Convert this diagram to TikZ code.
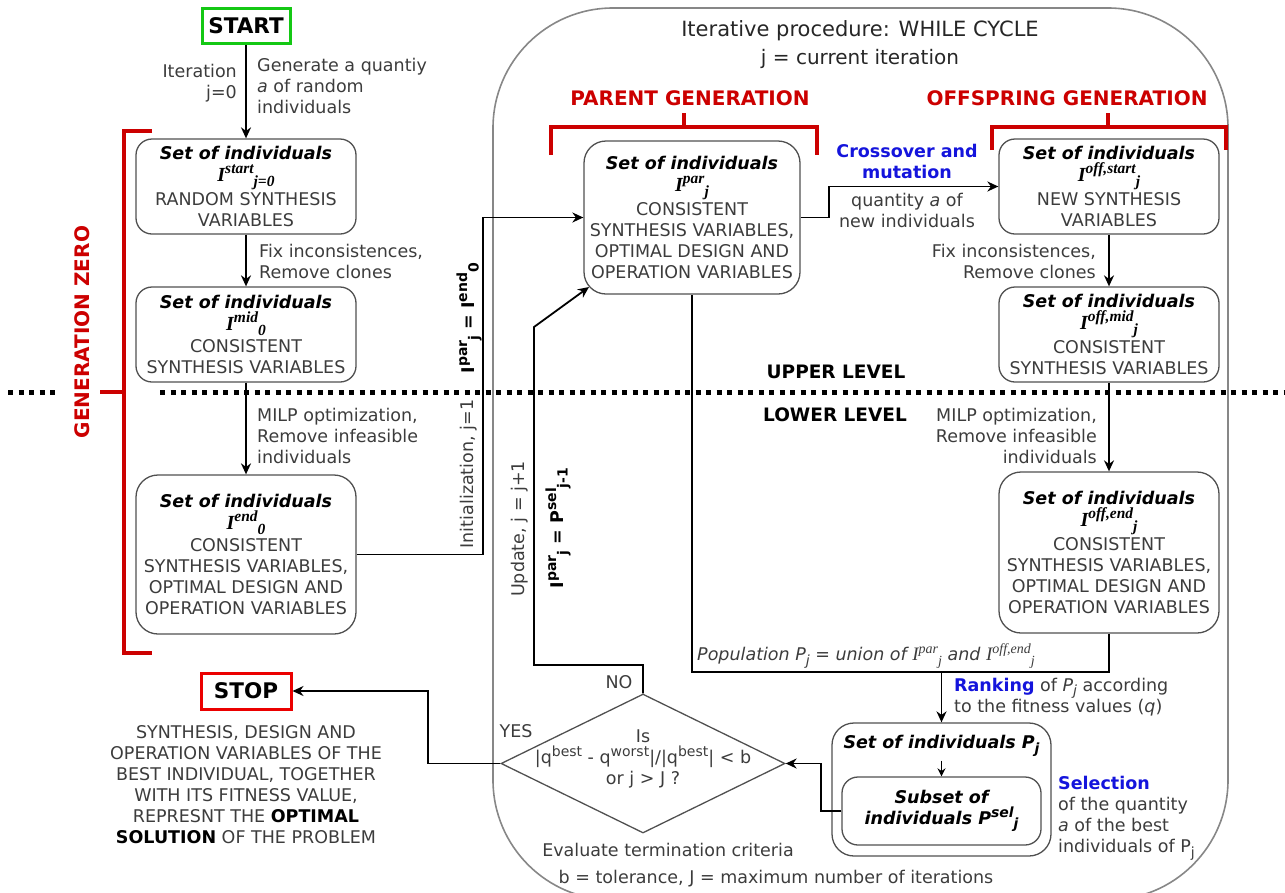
\documentclass[tikz,border=0pt]{standalone}
\usepackage{fontspec}
\setmainfont{DejaVu Sans}
\newfontfamily\serifbi{Liberation Serif}
\usetikzlibrary{shapes.geometric,arrows.meta,calc}
\definecolor{txt}{RGB}{60,60,60}
\definecolor{redc}{RGB}{204,0,0}
\definecolor{bluec}{RGB}{20,20,220}
\definecolor{frm}{RGB}{135,135,135}
\definecolor{bord}{RGB}{80,80,80}
\definecolor{grn}{RGB}{20,200,20}
\definecolor{stopred}{RGB}{235,0,0}
\newcommand\fs{\fontsize{17.5}{21}\selectfont}
\newcommand\supr[1]{\raisebox{0.40em}{\fontsize{14}{14}\selectfont #1}}
\newcommand\subr[1]{\raisebox{-0.26em}{\fontsize{14}{14}\selectfont #1}}
\newcommand\Isupr[1]{\raisebox{0.40em}{\fontsize{15.5}{15}\selectfont #1}}
\newcommand\Isubr[1]{\raisebox{-0.24em}{\fontsize{15.5}{15}\selectfont #1}}
\newcommand\SI{{\color{black}\bfseries\itshape Set of individuals}}
\newcommand\Iv[2]{{\color{black}\serifbi\fontsize{20}{21}\selectfont\bfseries\itshape I\Isupr{#1}\Isubr{#2}}}
\begin{document}
\begin{tikzpicture}[x=1pt,y=-1pt,font=\fs,text=txt,
  box/.style={draw=bord, line width=1.3pt, rounded corners=16pt, align=center, inner sep=0pt},
  bigbox/.style={box, rounded corners=22pt},
  arr/.style={-{Stealth[length=11pt,width=10pt]}, line width=1.8pt, draw=black},
  conn/.style={line width=1.8pt, draw=black},
  lbl/.style={inner sep=0pt},
  redbr/.style={draw=redc, line width=3.5pt},
  redlab/.style={inner sep=0pt, text=redc, font=\fontsize{20}{24}\selectfont\bfseries},
  levlab/.style={inner sep=0pt, text=black, font=\fontsize{18.5}{22}\selectfont\bfseries},
  dotl/.style={line width=5pt, dash pattern=on 5pt off 5.5pt, draw=black},
  bluelab/.style={inner sep=0pt, text=bluec, font=\fs\bfseries, align=center}]
\useasboundingbox (0,0) rectangle (1285,892);
\clip (0,0) rectangle (1285,892);

% WHILE frame
\draw[draw=frm, line width=1.6pt, rounded corners=120pt] (493,8) rectangle (1228,900);
\node[lbl, font=\fontsize{21}{24}\selectfont, text=black!85] (title) at (860,31) {Iterative procedure: WHILE CYCLE};
\node[lbl, font=\fontsize{20}{24}\selectfont, text=black!85] (curit) at (860,59) {j = current iteration};

% START / STOP
\node[draw=grn, line width=3pt, minimum width=88pt, minimum height=35pt, inner sep=0pt, text=black, font=\fontsize{21.5}{24}\selectfont\bfseries] (start) at (246,26) {START};
\node[draw=stopred, line width=3pt, minimum width=90pt, minimum height=36pt, inner sep=0pt, text=black, font=\fontsize{21.5}{24}\selectfont\bfseries] (stop) at (246,691) {STOP};
\node[lbl, align=center] (stopdesc) at (246,785) {SYNTHESIS, DESIGN AND\\OPERATION VARIABLES OF THE\\BEST INDIVIDUAL, TOGETHER\\WITH ITS FITNESS VALUE,\\REPRESNT THE {\color{black}\bfseries OPTIMAL}\\{\color{black}\bfseries SOLUTION} OF THE PROBLEM};

% generation zero boxes
\node[box, minimum width=220pt, minimum height=95pt] (b1) at (246,186.5) {\SI\\[1pt]\Iv{start}{j=0}\\[1pt]RANDOM SYNTHESIS\\VARIABLES};
\node[box, minimum width=220pt, minimum height=95pt] (b2) at (246,334.5) {\SI\\[1pt]\Iv{mid}{0}\\[1pt]CONSISTENT\\SYNTHESIS VARIABLES};
\node[bigbox, minimum width=220pt, minimum height=159pt] (b3) at (246,554.5) {\SI\\[1pt]\Iv{end}{0}\\[1pt]CONSISTENT\\SYNTHESIS VARIABLES,\\OPTIMAL DESIGN AND\\OPERATION VARIABLES};

% parent and offspring boxes
\node[bigbox, minimum width=216pt, minimum height=153pt] (par) at (692,217.5) {\SI\\[1pt]\Iv{par}{j}\\[1pt]CONSISTENT\\SYNTHESIS VARIABLES,\\OPTIMAL DESIGN AND\\OPERATION VARIABLES};
\node[box, minimum width=220pt, minimum height=95pt] (offs) at (1109,186.5) {\SI\\[1pt]\Iv{off,start}{j}\\[1pt]NEW SYNTHESIS\\VARIABLES};
\node[box, minimum width=220pt, minimum height=95pt] (offm) at (1109,334.5) {\SI\\[1pt]\Iv{off,mid}{j}\\[1pt]CONSISTENT\\SYNTHESIS VARIABLES};
\node[bigbox, minimum width=220pt, minimum height=161pt] (offe) at (1109,552.5) {\SI\\[1pt]\Iv{off,end}{j}\\[1pt]CONSISTENT\\SYNTHESIS VARIABLES,\\OPTIMAL DESIGN AND\\OPERATION VARIABLES};

% selection boxes
\node[bigbox, minimum width=219pt, minimum height=133pt] (pj) at (941.5,789.5) {};
\node[lbl, text=black, font=\fs\bfseries\itshape] (pjtxt) at (941.5,746) {Set of individuals P\subr{j}};
\node[box, minimum width=199pt, minimum height=68pt, text=black, font=\fs\bfseries\itshape] (psel) at (941.5,811) {Subset of\\individuals P\supr{sel}\subr{j}};

% decision diamond
\node[diamond, draw=bord, line width=1.3pt, minimum width=284pt, minimum height=139pt, inner sep=0pt] (dia) at (643,763.5) {};
\node[lbl, align=center] (diatxt) at (643,759) {Is\\|q\supr{best} - q\supr{worst}|/|q\supr{best}| < b\\or j > J ?};
\node[lbl] (evt) at (668,850) {Evaluate termination criteria};
\node[lbl] (tol) at (776,879) {b = tolerance, J = maximum number of iterations};

% labels on the left column
\node[lbl, align=right, anchor=east] (iterlab) at (237,83) {Iteration\\j=0};
\node[lbl, align=left, anchor=west] (genlab) at (257,86) {Generate a quantiy\\\textit{a} of random\\individuals};
\node[lbl, align=left, anchor=west] (fixl) at (259,261) {Fix inconsistences,\\Remove clones};
\node[lbl, align=left, anchor=west] (milpl) at (257,436) {MILP optimization,\\Remove infeasible\\individuals};
\node[lbl, align=right, anchor=east] (fixr) at (1096,261) {Fix inconsistences,\\Remove clones};
\node[lbl, align=right, anchor=east] (milpr) at (1097,436) {MILP optimization,\\Remove infeasible\\individuals};

% group labels
\node[redlab, rotate=90] (gz) at (82,332) {GENERATION ZERO};
\node[redlab] (pg) at (690,98) {PARENT GENERATION};
\node[redlab] (og) at (1067,98) {OFFSPRING GENERATION};
\draw[redbr] (152,131) -- (124,131) -- (124,653) -- (152,653);
\draw[redbr] (100,392) -- (124,392);
\draw[redbr] (551,155) -- (551,127) -- (817,127) -- (817,155);
\draw[redbr] (684,113) -- (684,127);
\draw[redbr] (992,150) -- (992,127) -- (1226,127) -- (1226,150);
\draw[redbr] (1108,113) -- (1108,127);

\node[levlab] (up) at (836,372) {UPPER LEVEL};
\node[levlab] (low) at (835,415) {LOWER LEVEL};

% crossover labels
\node[bluelab] (cross) at (907,161) {Crossover and\\mutation};
\node[lbl, align=center] (qty) at (907,210) {quantity \textit{a} of\\new individuals};

% vertical labels
\node[lbl, rotate=90] (initl) at (469,474) {Initialization, j=1};
\node[lbl, rotate=90, text=black, font=\fs\bfseries] (initeq) at (469,318) {I\supr{par}\subr{j} = I\supr{end}\subr{0}};
\node[lbl, rotate=90] (updl) at (520,529) {Update, j = j+1};
\node[lbl, rotate=90, text=black, font=\fs\bfseries] (updeq) at (558,528) {I\supr{par}\subr{j} = P\supr{sel}\subr{j-1}};

\node[lbl] (nol) at (619,682) {NO};
\node[lbl] (yesl) at (516,731) {YES};

\node[lbl, anchor=west, font=\fs\itshape] (popl) at (697,656) {Population P\subr{j} = union of {\serifbi\fontsize{19}{21}\selectfont\itshape I\supr{par}\subr{j}} and {\serifbi\fontsize{19}{21}\selectfont\itshape I\supr{off,end}\subr{j}}};
\node[lbl, anchor=west, align=left] (rankl) at (954,697) {{\color{bluec}\bfseries Ranking} of \textit{P\subr{j}} according\\to the fitness values (\textit{q})};
\node[lbl, anchor=west] (sell) at (1058,783) {\color{bluec}\bfseries Selection};
\node[lbl, anchor=west, align=left] (seldesc) at (1058,829) {of the quantity\\\textit{a} of the best\\individuals of P\subr{j}};

% coordinates for connectors
\coordinate (ic) at (483,217.5);
\coordinate (cm) at (829,200);
\coordinate (popy) at (0,672);
\coordinate (sx) at (821,0);
\coordinate (n1) at (534,665);
\coordinate (n2) at (534,327);
\coordinate (ptip) at (589,287);
\coordinate (yx) at (428,0);

% connectors
\draw[arr] (start.south) -- (b1.north);
\draw[arr] (b1.south) -- (b2.north);
\draw[arr] (b2.south) -- (b3.north);
\draw[arr] (b3.east) -| (ic) -- (par.west);
\draw[arr] (par.east) -| (cm |- offs.west) -- (offs.west);
\draw[arr] (offs.south) -- (offm.north);
\draw[arr] (offm.south) -- (offe.north);
\draw[conn] (offe.south) |- (par.south |- popy) -- (par.south);
\draw[arr] (pj.north |- popy) -- (pj.north);
\draw[-{Stealth[length=8pt,width=8pt]}, line width=1.5pt] (pjtxt.south) ++(0,4) -- (psel.north);
\draw[arr] (psel.west) -| (sx |- dia.east) -- (dia.east);
\draw[arr] (dia.north) |- (n1) -- (n2) -- (ptip);
\draw[arr] (dia.west) -| (yx |- stop.east) -- (stop.east);

% level separator
\draw[dotl] (8,392) -- (60,392);
\draw[dotl] (160,392) -- (1285,392);
\end{tikzpicture}
\end{document}
